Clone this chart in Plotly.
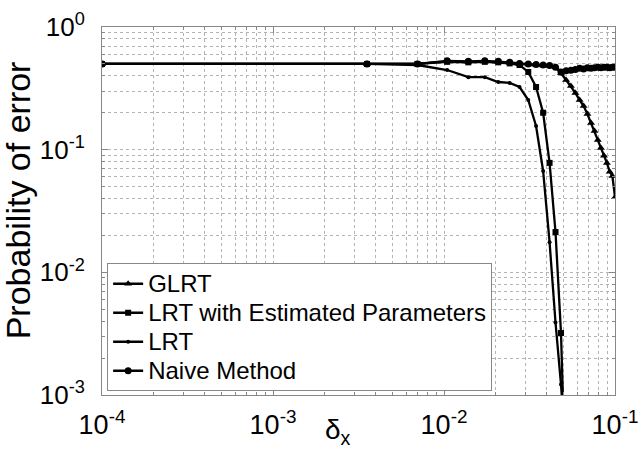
import plotly.graph_objects as go

# ---- data ----
delta_x = [0.0001, 0.003545, 0.00699, 0.010434, 0.013879, 0.017324, 0.020769, 0.024214,
           0.027659, 0.031103, 0.034548, 0.037993, 0.041438, 0.044883, 0.048328, 0.051772,
           0.055217, 0.058662, 0.062107, 0.065552, 0.068997, 0.072441, 0.075886, 0.079331,
           0.082776, 0.086221, 0.089666, 0.09311, 0.096555, 0.1]

glrt = [0.50, 0.50, 0.50, 0.525, 0.52, 0.525, 0.52, 0.51, 0.50, 0.495, 0.49, 0.485, 0.48,
        0.47, 0.42, 0.37, 0.33, 0.29, 0.254, 0.227, 0.195, 0.165, 0.142, 0.12, 0.103,
        0.089, 0.078, 0.066, 0.061, 0.041]

lrt_est = [0.50, 0.50, 0.50, 0.52, 0.515, 0.52, 0.515, 0.505, 0.49, 0.43, 0.324, 0.20,
           0.078, 0.0213, 0.0032, 0.00013]

lrt = [0.50, 0.50, 0.49, 0.446, 0.39, 0.39, 0.356, 0.35, 0.324, 0.254, 0.156, 0.067,
       0.0176, 0.0039, 0.00122, 0.0003]

naive = [0.50, 0.50, 0.50, 0.53, 0.525, 0.53, 0.525, 0.515, 0.505, 0.50, 0.495, 0.49,
         0.485, 0.47, 0.43, 0.44, 0.445, 0.45, 0.46, 0.455, 0.465, 0.46, 0.465, 0.47,
         0.465, 0.47, 0.47, 0.465, 0.47, 0.47]

series_names = ["GLRT", "LRT with Estimated Parameters", "LRT", "Naive Method"]

x_tickvals = [1e-4, 1e-3, 1e-2, 1e-1]
x_ticktext = ["10<sup>-4</sup>", "10<sup>-3</sup>", "10<sup>-2</sup>", "10<sup>-1</sup>"]
y_tickvals = [1e-3, 1e-2, 1e-1, 1e0]
y_ticktext = ["10<sup>-3</sup>", "10<sup>-2</sup>", "10<sup>-1</sup>", "10<sup>0</sup>"]

# ---- figure ----
FONT = "Arial, Liberation Sans, Helvetica, sans-serif"
fig = go.Figure()

styles = [
    dict(symbol="triangle-up", size=7),
    dict(symbol="square", size=6),
    dict(symbol="circle", size=4),
    dict(symbol="circle", size=7),
]
ys = [glrt, lrt_est, lrt, naive]
for name, y, st in zip(series_names, ys, styles):
    fig.add_trace(go.Scatter(
        x=delta_x[:len(y)], y=y,
        name='<span style="font-size:24px">%s</span>' % name,
        mode="lines+markers",
        line=dict(color="black", width=2.3),
        marker=dict(color="black", symbol=st["symbol"], size=st["size"]),
    ))

def minor_vals(lo, hi):
    vals = []
    for e in range(lo, hi):
        for m in range(2, 10):
            vals.append(m * 10.0 ** e)
    return vals

grid_color = "#b4b4b4"
axis_color = "#888888"

fig.update_xaxes(
    type="log", range=[-4, -1], automargin=False,
    tickvals=x_tickvals, ticktext=x_ticktext,
    showgrid=True, gridcolor=grid_color, griddash="dot", gridwidth=1,
    ticks="inside", ticklen=6, tickcolor=axis_color, ticklabelstandoff=6,
    showline=True, linecolor=axis_color, linewidth=1, mirror="allticks",
    zeroline=False,
    minor=dict(tickvals=minor_vals(-4, -1), showgrid=True, gridcolor=grid_color,
               griddash="dot", ticks="inside", ticklen=3, tickcolor=axis_color),
    tickfont=dict(family=FONT, size=27, color="black"),
)
fig.update_yaxes(
    type="log", range=[-3, 0], automargin=False,
    tickvals=y_tickvals, ticktext=y_ticktext,
    showgrid=True, gridcolor=grid_color, griddash="dot", gridwidth=1,
    ticks="inside", ticklen=6, tickcolor=axis_color, ticklabelstandoff=11,
    showline=True, linecolor=axis_color, linewidth=1, mirror="allticks",
    zeroline=False,
    minor=dict(tickvals=minor_vals(-3, 0), showgrid=True, gridcolor=grid_color,
               griddash="dot", ticks="inside", ticklen=3, tickcolor=axis_color),
    tickfont=dict(family=FONT, size=26, color="black"),
)

# axis titles
fig.add_annotation(
    text="Probability of error", xref="paper", yref="paper",
    x=-0.163, y=0.53, xanchor="center", yanchor="middle", textangle=-90,
    showarrow=False, font=dict(family=FONT, size=34, color="black"),
)
fig.add_annotation(
    text="δ<sub>x</sub>", xref="paper", yref="paper", x=0.46, y=-0.045,
    xanchor="center", yanchor="top", showarrow=False,
    font=dict(family=FONT, size=28, color="black"),
)

fig.update_layout(
    width=641, height=461,
    margin=dict(l=102, r=26, t=27, b=66, autoexpand=False),
    paper_bgcolor="white", plot_bgcolor="white",
    showlegend=True,
    legend=dict(
        x=0.01, y=0.358, xanchor="left", yanchor="top",
        bgcolor="white", bordercolor="#888888", borderwidth=1,
        font=dict(family=FONT, size=20, color="black"),
        itemwidth=30, tracegroupgap=0,
    ),
)

fig.write_html(
    "out.html",
    config={"displayModeBar": False},
    post_script="document.body.style.margin='0';document.body.style.overflow='hidden';",
)
